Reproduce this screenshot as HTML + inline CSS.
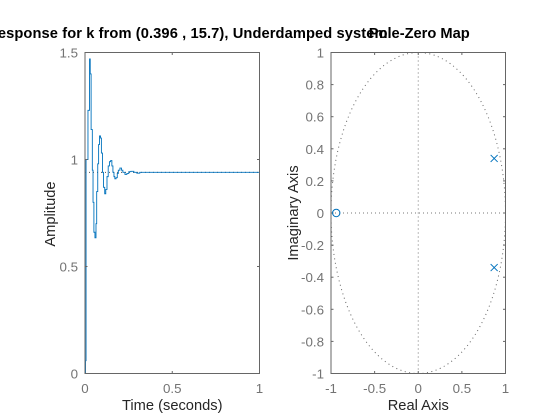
<!DOCTYPE html>
<html>
<head>
<meta charset="utf-8">
<style>
html,body{margin:0;padding:0;background:#fff;}
#fig{display:block;width:560px;height:420px;overflow:hidden;}
text{font-family:"Liberation Sans",Arial,sans-serif;}
.tick{font-size:13.33px;fill:#737373;}
.lab{font-size:14.67px;fill:#262626;}
.ttl{font-size:14.67px;font-weight:bold;fill:#000;}
</style>
</head>
<body>
<svg id="fig" xmlns="http://www.w3.org/2000/svg" width="560" height="420" viewBox="0 0 560 420"></svg>
<script>
// Step response data (time in seconds, amplitude)
const stepTimes = [0,.003,.006,.017,.026,.030,.035,.042,.046,.051,.057,.063,.067,.073,.078,.083,.089,.094,.100,.106,.113,.119,.126,.133,.140,.147,.154,.160,.166,.171,.178,.185,.191,.200,.209,.217,.229,.240,.251,.263,.280,.297,.314,1];
const stepAmps  = [0,.06,1.0,1.23,1.47,1.40,1.14,.95,.80,.66,.634,.70,.85,.98,1.07,1.11,1.10,1.03,.94,.87,.84,.86,.92,.97,.99,.995,.97,.94,.92,.91,.915,.935,.95,.96,.95,.94,.93,.935,.943,.945,.94,.936,.94,.94];
const steadyValue = [0.94];
const stepXTicks = [0,0.5,1];
const stepXTickLabels = ['0','0.5','1'];
const stepYTicks = [0,0.5,1,1.5];
const stepYTickLabels = ['0','0.5','1','1.5'];
// Pole-zero data
const poleRe = [0.87,0.87];
const poleIm = [0.34,-0.34];
const zeroRe = [-0.94];
const zeroIm = [0];
const pzXTicks = [-1,-0.5,0,0.5,1];
const pzXTickLabels = ['-1','-0.5','0','0.5','1'];
const pzYTicks = [-1,-0.8,-0.6,-0.4,-0.2,0,0.2,0.4,0.6,0.8,1];
const pzYTickLabels = ['-1','-0.8','-0.6','-0.4','-0.2','0','0.2','0.4','0.6','0.8','1'];

const svg = document.getElementById('fig');
const NS = 'http://www.w3.org/2000/svg';
const axisColor = '#666666';
const blue = '#0072BD';
const top_ = 52.5, bottom_ = 373.5;

function mk(tag, attrs, parent){
  const el = document.createElementNS(NS, tag);
  for (const k in attrs) el.setAttribute(k, attrs[k]);
  (parent || svg).appendChild(el);
  return el;
}
function scale(d0,d1,r0,r1){ return v => r0 + (v-d0)/(d1-d0)*(r1-r0); }

function drawAxes(x0,x1,sx,sy,xt,xl,yt,yl){
  for (let i=0;i<xt.length;i++){
    const x = sx(xt[i]);
    const t1 = mk('line',{x1:x,x2:x,y1:bottom_,y2:bottom_-2.5,stroke:axisColor,'stroke-width':1});
    
    
    const t2 = mk('line',{x1:x,x2:x,y1:top_,y2:top_+2.5,stroke:axisColor,'stroke-width':1});
    
    
    const lb = mk('text',{x:x,y:bottom_+19.5,'text-anchor':'middle',class:'tick'});
    lb.textContent = xl[i];
    
    
  }
  for (let i=0;i<yt.length;i++){
    const y = sy(yt[i]);
    const t1 = mk('line',{x1:x0,x2:x0+2.5,y1:y,y2:y,stroke:axisColor,'stroke-width':1});
    
    
    const t2 = mk('line',{x1:x1,x2:x1-2.5,y1:y,y2:y,stroke:axisColor,'stroke-width':1});
    
    
    const lb = mk('text',{x:x0-7,y:y+5,'text-anchor':'end',class:'tick'});
    lb.textContent = yl[i];
    
    
  }
  const box = mk('rect',{x:x0,y:top_,width:x1-x0,height:bottom_-top_,fill:'none',stroke:axisColor,'stroke-width':1});
  
  
}

/* ---------- Step response axes ---------- */
const L0 = 85, L1 = 259.5;
const sxL = scale(0,1,L0,L1);
const syL = scale(0,1.5,bottom_,top_);

const steady = mk('line',{x1:sxL(0),x2:sxL(1),y1:syL(steadyValue[0]),y2:syL(steadyValue[0]),stroke:'#555',
  'stroke-width':1,'stroke-dasharray':'1 3'});



let stepD = 'M' + sxL(stepTimes[0]) + ' ' + syL(stepAmps[0]);
for (let i=1;i<stepTimes.length;i++){
  stepD += 'H' + sxL(stepTimes[i]).toFixed(2) + 'V' + syL(stepAmps[i]).toFixed(2);
}
const stepPath = mk('path',{d:stepD,fill:'none',stroke:blue,'stroke-width':0.9});



drawAxes(L0,L1,sxL,syL,stepXTicks,stepXTickLabels,stepYTicks,stepYTickLabels);

const xlabL = mk('text',{x:(L0+L1)/2,y:410,'text-anchor':'middle',class:'lab'});
xlabL.textContent = 'Time (seconds)';



const ylabL = mk('text',{x:0,y:0,'text-anchor':'middle',class:'lab',transform:'translate(55,214) rotate(-90)'});
ylabL.textContent = 'Amplitude';



const ttlL = mk('text',{x:(L0+L1)/2-3,y:38,'text-anchor':'middle',class:'ttl','letter-spacing':'0.1'});
ttlL.textContent = 'Step Response for k from (0.396 , 15.7), Underdamped system';



/* ---------- Pole-zero axes ---------- */
const R0 = 331, R1 = 505.5;
const sxR = scale(-1,1,R0,R1);
const syR = scale(-1,1,bottom_,top_);

const circle = mk('ellipse',{cx:sxR(0),cy:syR(0),rx:sxR(1)-sxR(0),ry:syR(0)-syR(1),fill:'none',stroke:'#666',
  'stroke-width':1,'stroke-dasharray':'1 3.5'});



const hz = mk('line',{x1:R0,x2:R1,y1:syR(0),y2:syR(0),stroke:'#777','stroke-width':1,'stroke-dasharray':'1 3'});



const vt = mk('line',{x1:sxR(0),x2:sxR(0),y1:top_,y2:bottom_,stroke:'#777','stroke-width':1,'stroke-dasharray':'1 3'});



drawAxes(R0,R1,sxR,syR,pzXTicks,pzXTickLabels,pzYTicks,pzYTickLabels);

for (let i=0;i<poleRe.length;i++){
  const px = sxR(poleRe[i]), py = syR(poleIm[i]), r = 3.5;
  const m = mk('path',{d:`M${px-r} ${py-r}L${px+r} ${py+r}M${px-r} ${py+r}L${px+r} ${py-r}`,fill:'none',stroke:blue,'stroke-width':1});
  
  
}
for (let i=0;i<zeroRe.length;i++){
  const z = mk('circle',{cx:sxR(zeroRe[i]),cy:syR(zeroIm[i]),r:3.7,fill:'none',stroke:blue,'stroke-width':1});
  
  
}

const xlabR = mk('text',{x:(R0+R1)/2,y:410,'text-anchor':'middle',class:'lab'});
xlabR.textContent = 'Real Axis';



const ylabR = mk('text',{x:0,y:0,'text-anchor':'middle',class:'lab',transform:'translate(298,213) rotate(-90)'});
ylabR.textContent = 'Imaginary Axis';



const ttlR = mk('text',{x:(R0+R1)/2+1,y:38,'text-anchor':'middle',class:'ttl'});
ttlR.textContent = 'Pole-Zero Map';


</script>
</body>
</html>
